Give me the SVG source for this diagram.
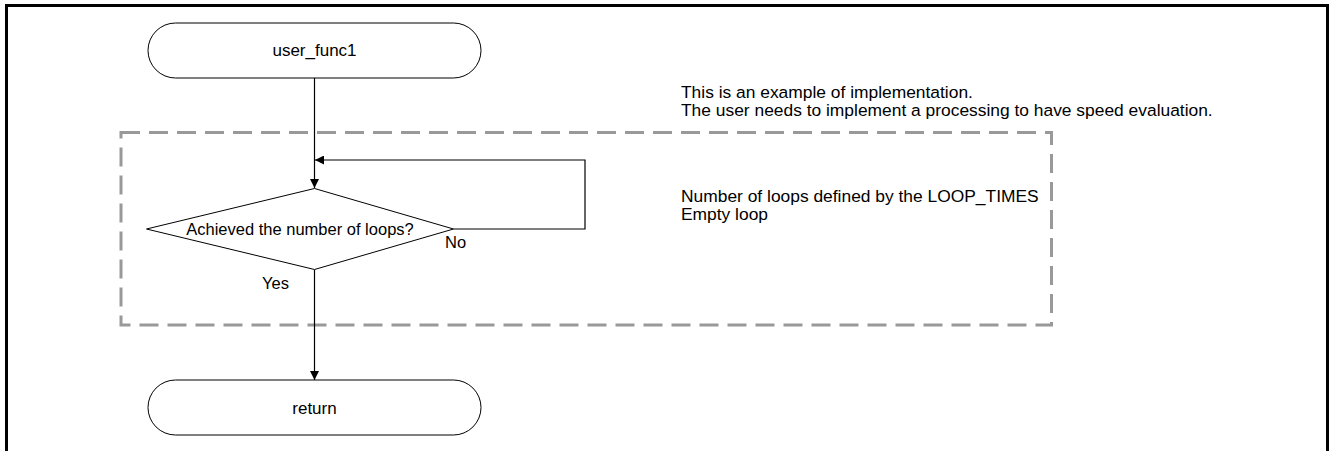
<svg xmlns="http://www.w3.org/2000/svg" width="1332" height="451" viewBox="0 0 1332 451">
<style>
text{font-family:"Liberation Sans",Arial,sans-serif;font-size:16.5px;fill:#000}
.big{font-size:17px}
.note{font-size:17.4px}
.term{fill:#fff;stroke:#000;stroke-width:1}
.line{fill:none;stroke:#000;stroke-width:1.2}
</style>
<defs>
<marker id="arr" viewBox="0 0 10 10" refX="10" refY="5" markerWidth="9" markerHeight="9" markerUnits="userSpaceOnUse" orient="auto">
<path d="M0,0 L10,5 L0,10 Z" fill="#000"/>
</marker>
</defs>
<rect x="0" y="0" width="1332" height="451" fill="#fff"/>
<path d="M6.5,460 V5.5 H1327.5 V460" fill="none" stroke="#000" stroke-width="3"/>
<rect id="loop-region" x="121" y="132.5" width="930.5" height="192.5" fill="none" stroke="#999" stroke-width="3" stroke-dasharray="19 9"/>
<g id="connectors">
<path class="line" d="M314.5,78 V188" marker-end="url(#arr)"/>
<path class="line" d="M453.5,229 H585 V160 H315" marker-end="url(#arr)"/>
<path class="line" d="M314.5,269.5 V380" marker-end="url(#arr)"/>
</g>
<g id="start">
<rect class="term" x="148" y="23" width="333" height="55" rx="27.5"/>
<text class="big" x="314.5" y="56" text-anchor="middle">user_func1</text>
</g>
<g id="decision">
<polygon class="term" points="314.5,188.5 453.5,229 314.5,269.5 146.5,229"/>
<text x="300" y="234.5" text-anchor="middle">Achieved the number of loops?</text>
<text x="445" y="247.5">No</text>
<text x="262" y="289">Yes</text>
</g>
<g id="end">
<rect class="term" x="148" y="380" width="333" height="55" rx="27.5"/>
<text class="big" x="314.5" y="413.5" text-anchor="middle">return</text>
</g>
<g id="note-top">
<text class="note" x="681" y="97.5">This is an example of implementation.</text>
<text class="note" x="681" y="116">The user needs to implement a processing to have speed evaluation.</text>
</g>
<g id="note-loop">
<text class="note" x="681" y="202">Number of loops defined by the LOOP_TIMES</text>
<text class="note" x="681" y="220">Empty loop</text>
</g>
</svg>
